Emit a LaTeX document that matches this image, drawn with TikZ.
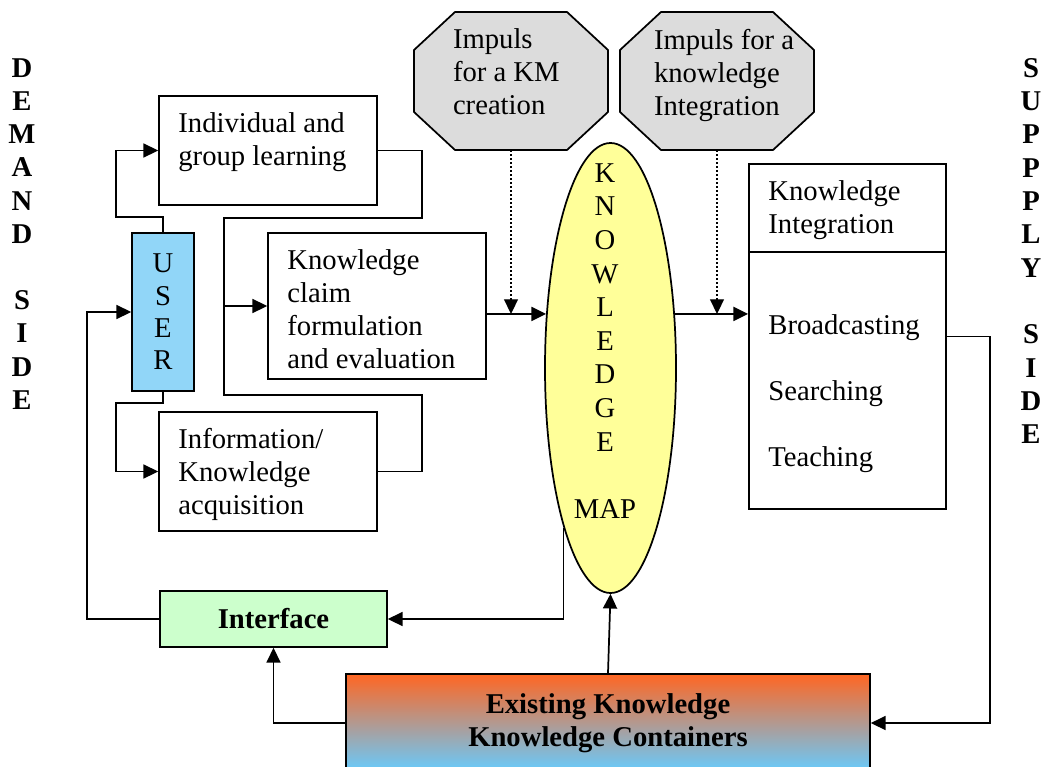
\documentclass[tikz,border=0pt]{standalone}
\usepackage{fontspec}
\setmainfont{Liberation Serif}
\usetikzlibrary{arrows.meta,calc,shapes.geometric}

\begin{document}
\begin{tikzpicture}[x=0.75pt,y=-0.75pt,
  box/.style={draw=black,line width=1.3pt,inner sep=0pt},
  txt/.style={anchor=north west,inner sep=0pt,align=left,font=\fontsize{21.5}{24.75}\selectfont},
  stack/.style={inner sep=0pt,align=center,font=\fontsize{21.5}{24.9}\selectfont\bfseries},
  arr/.style={line width=1.3pt,-{Triangle[length=11pt,width=10.5pt]}},
  dotarr/.style={line width=1pt,dotted,-{Triangle[length=11pt,width=10.5pt]}},
  line/.style={line width=1.3pt}]
\definecolor{fillColor}{RGB}{255,255,255}
\path[use as bounding box,fill=fillColor] (0,0) rectangle (1042,767);
\begin{scope}
\path[clip] (0,0) rectangle (1042,767);
\definecolor{userColor}{RGB}{145,214,248}
\definecolor{mapColor}{RGB}{255,255,153}
\definecolor{impColor}{RGB}{220,220,220}
\definecolor{ifaceColor}{RGB}{204,255,204}
\definecolor{existTop}{RGB}{255,102,34}
\definecolor{existMid}{RGB}{200,162,190}
\definecolor{existBot}{RGB}{102,204,255}

\node[stack] (demand) at (22,234) {D\\E\\M\\A\\N\\D\\[24.9pt]S\\I\\D\\E};
\node[stack,font=\fontsize{21.5}{25}\selectfont\bfseries] (supply) at (1031,251) {S\\U\\P\\P\\P\\L\\Y\\[25pt]S\\I\\D\\E};

\path[fill=impColor,draw=black,line width=1.3pt] (455,12) -- (567,12) -- (608,50) -- (608,112) -- (567,150) -- (455,150) -- (414,112) -- (414,50) -- cycle;
\path[fill=impColor,draw=black,line width=1.3pt] (661,12) -- (773,12) -- (814,50) -- (814,112) -- (773,150) -- (661,150) -- (620,112) -- (620,50) -- cycle;
\node[inner sep=0pt,minimum width=145.5pt,minimum height=103.5pt] (imp1) at (511,81) {};
\node[inner sep=0pt,minimum width=145.5pt,minimum height=103.5pt] (imp2) at (717,81) {};
\node[txt] (imp1txt) at ($(imp1.north west)+(39,17)$) {Impuls\\for a KM\\creation};
\node[txt] (imp2txt) at ($(imp2.north west)+(34,17)$) {Impuls for a\\knowledge\\Integration};

\node[box,minimum width=163.5pt,minimum height=81.75pt] (indiv) at (268,150.5) {};
\node[box,fill=userColor,minimum width=46.5pt,minimum height=118.5pt,align=center,font=\fontsize{21.5}{24.2}\selectfont] (user) at (163,312) {U\\S\\E\\R};
\node[box,minimum width=163.5pt,minimum height=109.5pt] (claim) at (377,306) {};
\node[box,minimum width=163.5pt,minimum height=89.25pt] (info) at (268,471.5) {};
\node[txt] (indivtxt) at ($(indiv.north west)+(20,17)$) {Individual and\\group learning};
\node[txt] (claimtxt) at ($(claim.north west)+(20,17)$) {Knowledge\\claim\\formulation\\and evaluation};
\node[txt] (infotxt) at ($(info.north west)+(20,17)$) {Information/\\Knowledge\\acquisition};

\node[draw=black,ellipse,line width=1.3pt,fill=mapColor,inner sep=0pt,minimum width=98.25pt,minimum height=337.5pt] (kmap) at (610.5,368) {};
\node[inner sep=0pt,align=center,font=\fontsize{21.5}{25.2}\selectfont] (maptxt) at (605,341) {K\\N\\O\\W\\L\\E\\D\\G\\E\\[25.2pt]MAP};

\node[box,minimum width=147.75pt,minimum height=258.75pt] (ki) at (847.5,336.5) {};
\draw[line] ($(ki.north west)+(0,89)$) -- ($(ki.north east)+(0,89)$);
\node[txt] (kitxt) at ($(ki.north west)+(20,17)$) {Knowledge\\Integration};
\node[txt] (kilist) at ($(ki.north west)+(20,151)$) {Broadcasting\\[24.75pt]Searching\\[24.75pt]Teaching};

\node[box,fill=ifaceColor,minimum width=170.25pt,minimum height=42pt,font=\fontsize{21.5}{24.75}\selectfont\bfseries] (iface) at (273.5,619) {Interface};
\node[box,top color=existTop,middle color=existMid,bottom color=existBot,minimum width=393pt,minimum height=73.5pt,align=center,font=\fontsize{21.5}{24.75}\selectfont\bfseries] (exist) at (608,723) {Existing Knowledge\\Knowledge Containers};

\draw[arr] (user.north) -- ++(0,-15) -- ++(-47,0) |- (indiv.west);
\draw[arr] (user.south) -- ++(0,11) -- ++(-47,0) |- (info.west);
\draw[line] (indiv.east) -- ++(44,0) |- ($(claim.west)+(-43,-88)$) -- ($(claim.west)+(-43,89)$) -| ($(info.east)+(44,0)$) -- (info.east);
\draw[arr] ($(claim.west)+(-43,0)$) -- (claim.west);
\draw[arr] (claim.east |- kmap.140) -- (kmap.140);
\draw[arr] (kmap.40) -- (kmap.40 -| ki.west);
\draw[dotarr] (imp1.south) -- (imp1.south |- kmap.140);
\draw[dotarr] (imp2.south) -- (imp2.south |- kmap.40);
\draw[arr] (ki.east) -- ++(43,0) |- (exist.east);
\draw[arr] (exist.west) -| (iface.south);
\draw[arr] (exist.north) -- (kmap.south);
\draw[arr] (kmap.south west) |- (iface.east);
\draw[arr] (iface.west) -- ++(-72,0) |- (user.west);
\end{scope}
\end{tikzpicture}
\end{document}
